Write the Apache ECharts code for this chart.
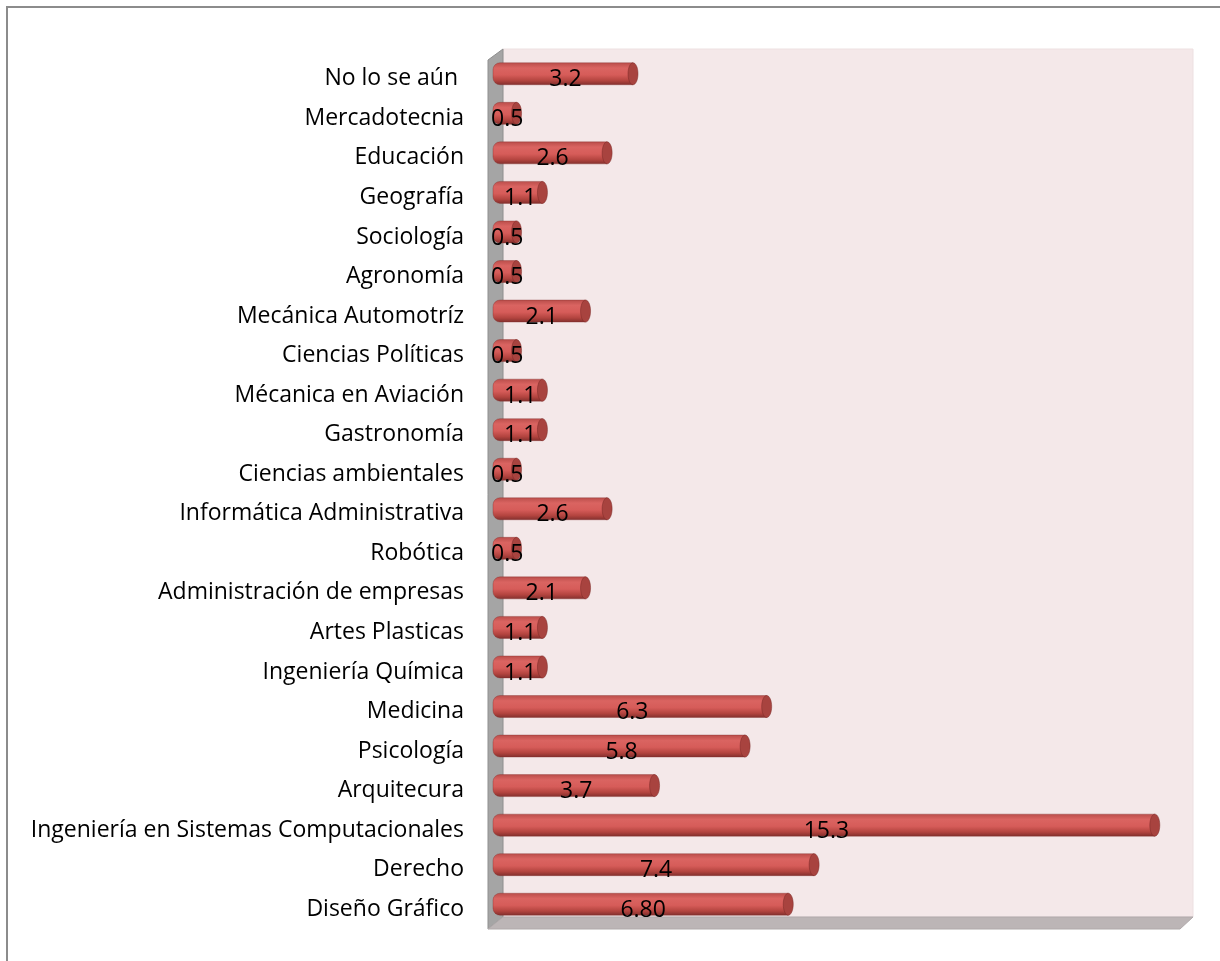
<!DOCTYPE html>
<html>
<head>
<meta charset="utf-8">
<script src="https://cdn.jsdelivr.net/npm/echarts@6/dist/echarts.min.js"></script>
<style>html,body{margin:0;padding:0;background:#fff}#c{width:1220px;height:961px}</style>
</head>
<body>
<div id="c"></div>
<script>
// Categories listed bottom -> top (ECharts category y axis order)
const categories = ['Diseño Gráfico','Derecho','Ingeniería en Sistemas Computacionales','Arquitecura','Psicología','Medicina','Ingeniería Química','Artes Plasticas','Administración de empresas','Robótica','Informática Administrativa','Ciencias ambientales','Gastronomía','Mécanica en Aviación','Ciencias Políticas','Mecánica Automotríz','Agronomía','Sociología','Geografía','Educación','Mercadotecnia','No lo se aún '];
const values = [6.8,7.4,15.3,3.7,5.8,6.3,1.1,1.1,2.1,0.5,2.6,0.5,1.1,1.1,0.5,2.1,0.5,0.5,1.1,2.6,0.5,3.2];
const valueLabels = ['6.80','7.4','15.3','3.7','5.8','6.3','1.1','1.1','2.1','0.5','2.6','0.5','1.1','1.1','0.5','2.1','0.5','0.5','1.1','2.6','0.5','3.2'];
const xMin = 0, xMax = 16;

const chart = echarts.init(document.getElementById('c'));
const G = {left: 500, top: 54, right: 30, bottom: 37};

const barGrad = new echarts.graphic.LinearGradient(0,0,0,1,[
  {offset:0, color:'#b84c49'},
  {offset:0.25, color:'#da6461'},
  {offset:0.55, color:'#d65c59'},
  {offset:0.8, color:'#b3443f'},
  {offset:1, color:'#7f2e2c'}
]);

chart.setOption({
  animation: false,
  backgroundColor: '#ffffff',
  grid: {left: G.left, top: G.top, right: G.right, bottom: G.bottom, containLabel: false},
  xAxis: {type: 'value', min: xMin, max: xMax, show: false},
  yAxis: {
    type: 'category', data: categories,
    axisLine: {show: false}, axisTick: {show: false}, splitLine: {show: false},
    axisLabel: {margin: 36, color: '#000', fontFamily: 'Open Sans', fontSize: 23,
      verticalAlign: 'top', lineHeight: 10}
  },
  graphic: [
    {type:'rect', z:-20, shape:{x:7, y:7, width:1230, height:970}, style:{fill:'#fff', stroke:'#8c8c8c', lineWidth:2}},
    {type:'rect', z:-10, shape:{x:503, y:49, width:690, height:868}, style:{fill:'#f4e8e9', stroke:'#ede0e1', lineWidth:1}},
    {type:'polygon', z:-10, shape:{points:[[488,60],[503,49],[503,917],[488,929]]}, style:{fill:'#a5a5a5', stroke:'#8f8f8f', lineWidth:1}},
    {type:'polygon', z:-10, shape:{points:[[488,929],[503,917],[1193,917],[1180,929]]}, style:{fill:'#bcb5b6', stroke:'#b0a9aa', lineWidth:1}}
  ],
  series: [{
    type: 'custom',
    coordinateSystem: 'cartesian2d',
    data: values.map((v,i) => [v, i]),
    renderItem: function(params, api) {
      const v = api.value(0), idx = api.value(1);
      const s = api.coord([0, idx]);
      const e = api.coord([v, idx]);
      const h = 22;
      const cy = s[1];
      const x0 = s[0] - 7;
      const x1 = e[0];
      const rx = 5;
      return {
        type: 'group',
        children: [
          {type:'rect', shape:{x:x0, y:cy-h/2, width:Math.max(x1-rx-x0,1), height:h, r:[7,0,0,7]},
           style:{fill:barGrad, stroke:'rgba(130,45,42,0.45)', lineWidth:0.8}},
          {type:'ellipse', shape:{cx:x1-rx, cy:cy, rx:rx, ry:h/2},
           style:{fill:'#a8433f', stroke:'rgba(120,40,38,0.6)', lineWidth:0.8}},
          {type:'text', style:{x:(x0+x1)/2, y:cy+6, text:valueLabels[params.dataIndex], fill:'#000',
            font:'23px "Open Sans"', align:'center', verticalAlign:'middle'}}
        ]
      };
    }
  }]
});
</script>
</body>
</html>
